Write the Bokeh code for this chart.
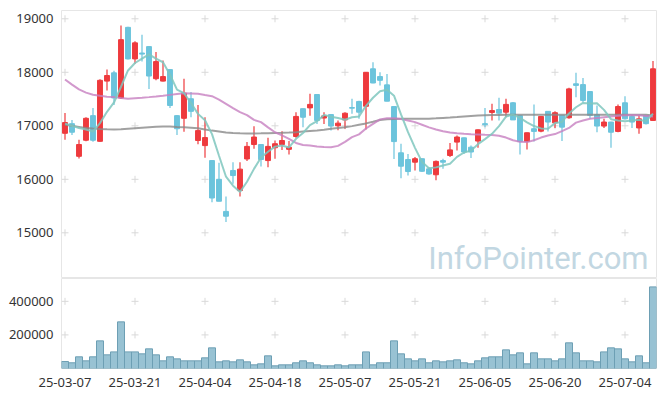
from bokeh.plotting import figure
from bokeh.layouts import column
from bokeh.models import ColumnDataSource, FixedTicker, Range1d, Label, BasicTickFormatter
from bokeh.embed import file_html
from bokeh.resources import INLINE

dates = ["25-03-07", "25-03-10", "25-03-11", "25-03-12", "25-03-13", "25-03-14", "25-03-17", "25-03-18",
         "25-03-19", "25-03-20", "25-03-21", "25-03-24", "25-03-25", "25-03-26", "25-03-27", "25-03-28",
         "25-03-31", "25-04-01", "25-04-02", "25-04-03", "25-04-04", "25-04-07", "25-04-08", "25-04-09",
         "25-04-10", "25-04-11", "25-04-14", "25-04-15", "25-04-16", "25-04-17", "25-04-18", "25-04-21",
         "25-04-22", "25-04-23", "25-04-24", "25-04-25", "25-04-28", "25-04-29", "25-04-30", "25-05-02",
         "25-05-07", "25-05-08", "25-05-09", "25-05-12", "25-05-13", "25-05-14", "25-05-15", "25-05-16",
         "25-05-19", "25-05-20", "25-05-21", "25-05-22", "25-05-23", "25-05-26", "25-05-27", "25-05-28",
         "25-05-29", "25-05-30", "25-06-02", "25-06-04", "25-06-05", "25-06-09", "25-06-10", "25-06-11",
         "25-06-12", "25-06-13", "25-06-16", "25-06-17", "25-06-18", "25-06-19", "25-06-20", "25-06-23",
         "25-06-24", "25-06-25", "25-06-26", "25-06-27", "25-06-30", "25-07-01", "25-07-02", "25-07-03",
         "25-07-04", "25-07-07", "25-07-08", "25-07-09", "25-07-10"]

opens = [16860, 17040, 16430, 16730, 17190, 16710, 17835, 17990, 17520, 18840,
         18250, 18360, 18480, 17880, 17835, 18050, 17190, 17140, 17505, 16725,
         16630, 16350, 16000, 15400, 16165, 15790, 16380, 16650, 16650, 16350,
         16590, 16650, 16560, 16800, 17320, 17335, 17585, 17145, 17210, 17000,
         17110, 17340, 17455, 17365, 18065, 17920, 17765, 17360, 16495, 16370,
         16320, 16385, 16195, 16085, 16350, 16445, 16695, 16775, 16600, 16715,
         17040, 17250, 17305, 17255, 17430, 17190, 16705, 16945, 16900, 17270,
         17055, 17195, 17150, 17785, 17770, 17640, 17210, 16995, 17070, 16895,
         17430, 17175, 16960, 17195, 17100]
highs = [17240, 17110, 16740, 17160, 17335, 17870, 18050, 18030, 18875, 18850,
         18580, 18700, 18490, 18380, 18220, 18060, 17200, 17880, 17630, 17390,
         17160, 16360, 16310, 15680, 16320, 16320, 16695, 16990, 16660, 16775,
         16725, 16900, 16715, 17255, 17325, 17600, 17590, 17255, 17215, 17100,
         17255, 17505, 17470, 18005, 18190, 18000, 17970, 17365, 16665, 16475,
         16415, 16390, 16225, 16350, 16385, 16680, 16820, 16780, 16630, 16930,
         17335, 17410, 17525, 17505, 17445, 17195, 16875, 17400, 17180, 17275,
         17270, 17200, 17710, 17990, 17895, 17645, 17380, 17130, 17075, 17400,
         17550, 17210, 17195, 17200, 18210]
lows = [16740, 16830, 16390, 16710, 16700, 16700, 17660, 17390, 17500, 18240,
        18160, 18200, 17690, 17850, 17830, 17335, 16830, 16890, 17160, 16655,
        16405, 15570, 15590, 15200, 15915, 15680, 16340, 16570, 16240, 16225,
        16385, 16550, 16465, 16775, 16975, 17190, 17035, 17035, 16910, 16915,
        16945, 17225, 17130, 16930, 17795, 17755, 17460, 16380, 16020, 16070,
        16165, 16135, 16085, 15980, 16195, 16415, 16540, 16475, 16400, 16590,
        16975, 17100, 17100, 17160, 17110, 16465, 16555, 16705, 16880, 16895,
        16960, 16715, 17130, 17535, 17440, 17130, 16880, 16960, 16590, 16880,
        17120, 16960, 16850, 17025, 17090]
closes = [17060, 16880, 16650, 17140, 16730, 17850, 17940, 17520, 18610, 18250,
          18550, 18340, 17930, 18200, 17920, 17380, 16945, 17610, 17270, 16910,
          16780, 15650, 15590, 15310, 16070, 16190, 16615, 16790, 16370, 16615,
          16665, 16725, 16600, 17175, 17160, 17400, 17100, 17185, 16995, 17050,
          17235, 17330, 17255, 18000, 17800, 17850, 17460, 16705, 16245, 16145,
          16385, 16150, 16100, 16335, 16320, 16550, 16790, 16510, 16510, 16925,
          17020, 17285, 17235, 17400, 17110, 16705, 16870, 16895, 17175, 17070,
          17245, 16975, 17690, 17755, 17475, 17195, 16995, 17070, 16880, 17360,
          17130, 17070, 17130, 17040, 18065]
volumes = [41700, 34000, 69600, 45600, 69600, 164600, 81400, 99000, 277700, 99000,
           99000, 87300, 117000, 81400, 45600, 69600, 57500, 45600, 45600, 45600,
           63500, 123000, 39700, 45600, 39700, 51600, 39700, 21800, 27800, 75400,
           15900, 21800, 21800, 34000, 45600, 34000, 21800, 15900, 15900, 21800,
           15900, 21800, 21800, 99000, 21800, 34000, 34000, 164600, 87300, 57500,
           45600, 57500, 34000, 45600, 39700, 45600, 51600, 34000, 27800, 45600,
           63500, 69600, 69600, 111000, 81400, 93300, 27800, 93300, 57500, 57500,
           45600, 57500, 152800, 93300, 45600, 45600, 39700, 99000, 123000, 117000,
           57500, 39700, 75400, 34000, 486000]
ma5 = [17040, 17000, 16960, 16930, 16892, 17050, 17262, 17436, 17730, 18034,
       18174, 18254, 18336, 18254, 18188, 17954, 17675, 17611, 17425, 17223,
       17103, 16844, 16440, 16048, 15880, 15762, 15955, 16195, 16407, 16516,
       16611, 16633, 16595, 16756, 16865, 17012, 17087, 17204, 17168, 17146,
       17113, 17159, 17173, 17374, 17524, 17647, 17673, 17563, 17212, 16881,
       16588, 16326, 16205, 16223, 16258, 16291, 16419, 16501, 16536, 16657,
       16751, 16850, 16995, 17173, 17210, 17147, 17064, 16996, 16951, 16943,
       17051, 17072, 17231, 17347, 17428, 17418, 17422, 17298, 17123, 17100,
       17087, 17101, 17113, 17087, 17228]
ma20 = [17866, 17770, 17680, 17620, 17580, 17560, 17545, 17536, 17520, 17505,
        17515, 17525, 17536, 17548, 17561, 17578, 17595, 17610, 17605, 17598,
        17575, 17554, 17490, 17410, 17330, 17255, 17200, 17110, 17069, 16970,
        16880, 16820, 16757, 16680, 16640, 16630, 16615, 16605, 16600, 16625,
        16700, 16788, 16840, 16950, 17037, 17120, 17143, 17143, 17125, 17100,
        17069, 17020, 16970, 16930, 16900, 16875, 16860, 16850, 16842, 16838,
        16832, 16830, 16815, 16780, 16730, 16700, 16695, 16730, 16780, 16820,
        16845, 16900, 16960, 17060, 17100, 17130, 17145, 17160, 17175, 17190,
        17195, 17200, 17195, 17185, 17175]
ma60 = [17020, 17000, 16980, 16960, 16950, 16942, 16936, 16932, 16935, 16945,
        16955, 16965, 16975, 16982, 16988, 16985, 16978, 16972, 16965, 16955,
        16930, 16910, 16894, 16875, 16866, 16860, 16857, 16858, 16860, 16863,
        16866, 16869, 16874, 16881, 16892, 16903, 16913, 16926, 16944, 16960,
        16975, 16994, 17020, 17045, 17075, 17110, 17122, 17128, 17131, 17131,
        17131, 17131, 17133, 17140, 17148, 17156, 17165, 17175, 17185, 17193,
        17197, 17200, 17203, 17206, 17206, 17206, 17206, 17206, 17206, 17206,
        17206, 17206, 17206, 17206, 17206, 17206, 17206, 17206, 17206, 17206,
        17206, 17206, 17206, 17206, 17193]

price_ticks = [15000, 16000, 17000, 18000, 19000]
volume_ticks = [200000, 400000]
date_tick_idx = [0, 10, 20, 30, 40, 50, 60, 70, 80]

UP = "#ee3a3d"
DOWN = "#6cc4dc"
GRID = "#d9d9d9"
BORDER = "#e6e6e6"
FONT = "Noto Sans"

n = len(dates)
idx = list(range(n))
src = ColumnDataSource(dict(
    x=idx, o=opens, h=highs, l=lows, c=closes, v=volumes,
    top=[max(a, b) for a, b in zip(opens, closes)],
    bot=[min(a, b) for a, b in zip(opens, closes)],
    col=[UP if c >= o else DOWN for o, c in zip(opens, closes)],
    ma5=ma5, ma20=ma20, ma60=ma60,
))

xr = Range1d(-0.5, n - 0.5)

p = figure(width=660, height=278, x_range=xr, y_range=Range1d(14146, 19155),
           output_backend="svg", toolbar_location=None,
           min_border_left=61, min_border_right=4, min_border_top=10, min_border_bottom=0)
p.xaxis.visible = False
p.xgrid.visible = False
p.ygrid.visible = False
p.outline_line_color = BORDER
p.background_fill_color = "white"
p.border_fill_color = "white"

gx = [i for i in date_tick_idx for _ in price_ticks]
gy = [t for _ in date_tick_idx for t in price_ticks]
p.scatter(gx, gy, marker="cross", size=7, line_color=GRID, line_width=1)

wm = Label(x=587, y=2, x_units="screen", y_units="screen", text="InfoPointer.com",
           text_align="right", text_baseline="bottom",
           text_font="Roboto", text_font_size="31px", text_color="#c2d7e2", level="underlay")
p.add_layout(wm)

p.segment(x0="x", y0="l", x1="x", y1="h", source=src, line_color="col", line_width=1.2)
p.vbar(x="x", width=0.7, top="top", bottom="bot", source=src,
       fill_color="col", line_color="col", line_width=1)

p.line("x", "ma60", source=src, line_color="#8a8a8a", line_width=2, line_alpha=0.8)
p.line("x", "ma20", source=src, line_color="#c77fc0", line_width=2, line_alpha=0.8)
p.line("x", "ma5", source=src, line_color="#7fc7be", line_width=2, line_alpha=0.85)

p.yaxis.ticker = FixedTicker(ticks=price_ticks)
p.yaxis.axis_line_color = None
p.yaxis.major_tick_line_color = None
p.yaxis.minor_tick_line_color = None
p.yaxis.major_label_text_font = FONT
p.yaxis.major_label_text_font_size = "13px"
p.yaxis.major_label_text_color = "#333333"
p.yaxis.major_label_standoff = 2

q = figure(width=660, height=112, x_range=xr, y_range=Range1d(0, 536000),
           output_backend="svg", toolbar_location=None,
           min_border_left=61, min_border_right=4, min_border_top=0, min_border_bottom=22)
q.xgrid.visible = False
q.ygrid.visible = False
q.outline_line_color = BORDER

vx = [i for i in date_tick_idx for _ in volume_ticks]
vy = [t for _ in date_tick_idx for t in volume_ticks]
q.scatter(vx, vy, marker="cross", size=7, line_color=GRID, line_width=1)

q.vbar(x="x", width=1.0, top="v", bottom=0, source=src,
       fill_color="#98c2d3", line_color="#6d9fb4", line_width=1)

q.yaxis.ticker = FixedTicker(ticks=volume_ticks)
q.yaxis.formatter = BasicTickFormatter(use_scientific=False)
q.xaxis.ticker = FixedTicker(ticks=date_tick_idx)
q.xaxis.major_label_overrides = {i: dates[i] for i in date_tick_idx}
for ax in (q.xaxis, q.yaxis):
    ax.axis_line_color = None
    ax.major_tick_line_color = None
    ax.minor_tick_line_color = None
    ax.major_label_text_font = FONT
    ax.major_label_text_font_size = "13px"
    ax.major_label_text_color = "#333333"
q.yaxis.major_label_standoff = 2
q.xaxis.major_label_standoff = 3

layout = column(p, q, spacing=0)
open("out.html", "w").write(file_html(layout, INLINE))
